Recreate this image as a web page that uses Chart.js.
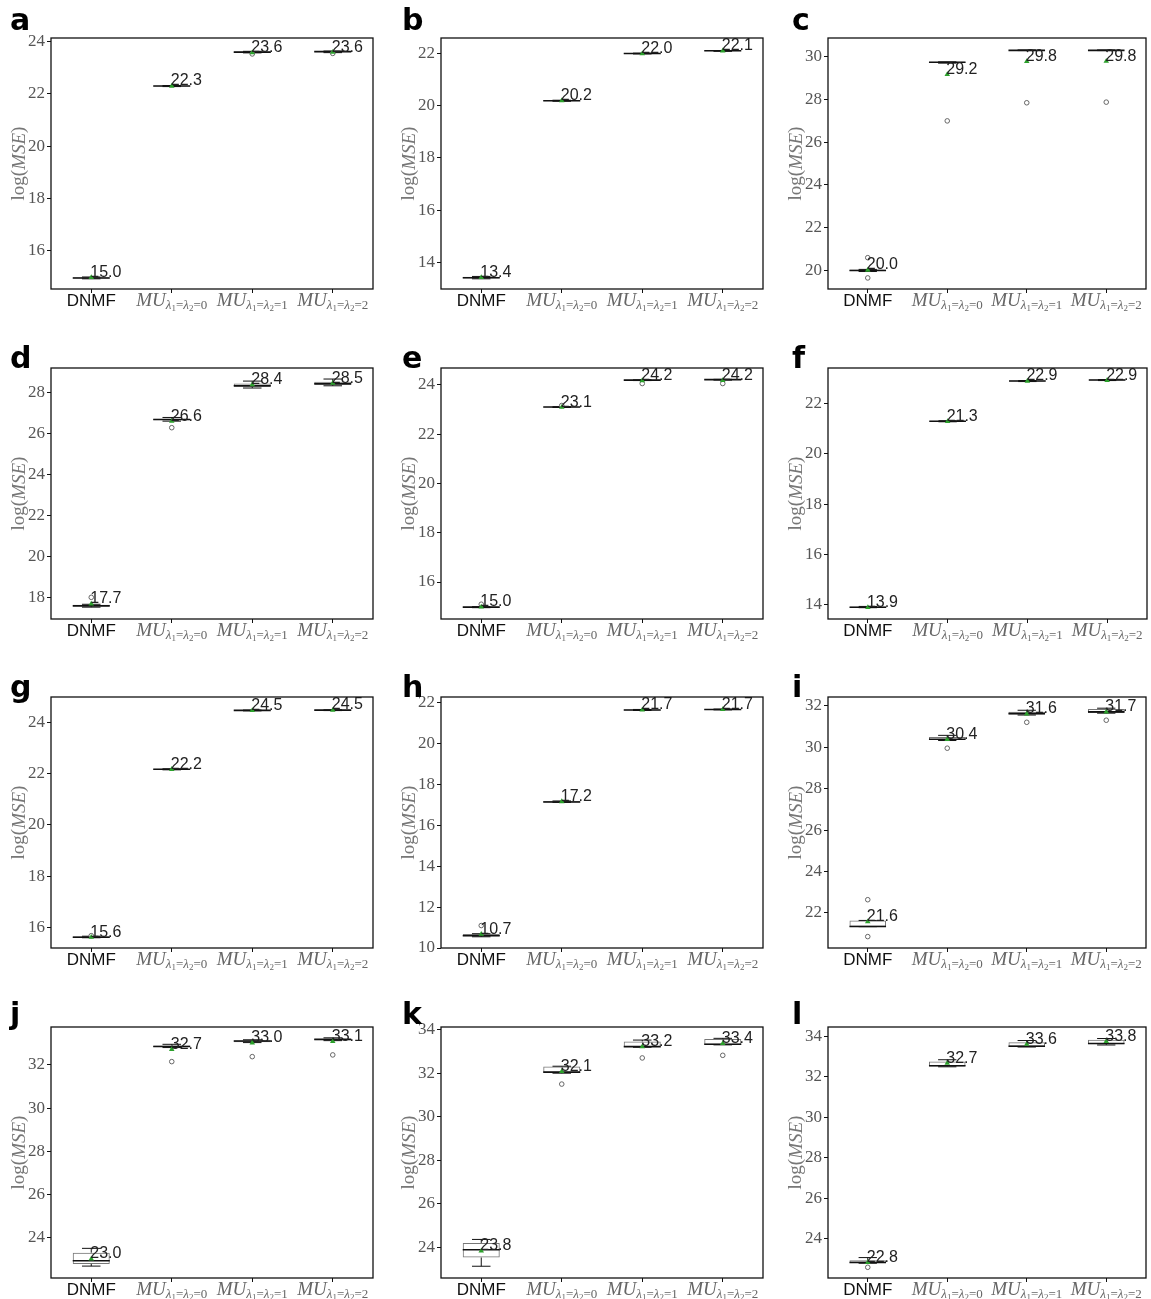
<!DOCTYPE html>
<html>
<head>
<meta charset="utf-8">
<script src="https://cdn.jsdelivr.net/npm/chart.js@4.4.0/dist/chart.umd.min.js"></script>
<style>
  body { margin: 0; background: #fff; width: 1151px; height: 1299px; position: relative; overflow: hidden; }
  .cell { position: absolute; height: 330px; }
  .cell canvas { display: block; }
</style>
</head>
<body>
<script>
// categories on the x axis (text after "_" is the subscript)
const categories = ['DNMF', 'MU_λ1=λ2=0', 'MU_λ1=λ2=1', 'MU_λ1=λ2=2'];
const panelLetters = ['a', 'b', 'c', 'd', 'e', 'f', 'g', 'h', 'i', 'j', 'k', 'l'];

// y axis range of each panel
const yMin = [14.53, 12.98, 19.11, 16.94, 14.5, 13.43, 15.2, 10.0, 20.31, 22.15, 22.6, 22.05];
const yMax = [24.14, 22.58, 30.89, 29.22, 24.68, 23.42, 24.99, 22.29, 32.42, 33.75, 34.12, 34.47];
const yStep = 2;

// box statistics, one row per panel, one value per category
const boxLow = [
    [14.93, 22.28, 23.57, 23.59],
    [13.38, 20.16, 21.97, 22.07],
    [19.95, 29.72, 30.30, 30.30],
    [17.56, 26.66, 28.29, 28.39],
    [14.97, 23.08, 24.17, 24.19],
    [13.88, 21.28, 22.88, 22.92],
    [15.60, 22.15, 24.45, 24.46],
    [10.58, 17.13, 21.63, 21.66],
    [21.34, 30.34, 31.57, 31.65],
    [22.80, 32.82, 33.05, 33.14],
    [23.54, 32.02, 33.20, 33.31],
    [22.80, 32.51, 33.50, 33.62]
];
const boxMedian = [
    [14.95, 22.30, 23.60, 23.62],
    [13.41, 20.18, 21.99, 22.09],
    [19.98, 29.75, 30.31, 30.31],
    [17.58, 26.70, 28.35, 28.45],
    [14.98, 23.10, 24.19, 24.21],
    [13.90, 21.30, 22.90, 22.94],
    [15.62, 22.17, 24.47, 24.48],
    [10.60, 17.15, 21.65, 21.68],
    [21.35, 30.38, 31.62, 31.70],
    [22.95, 32.85, 33.10, 33.18],
    [23.90, 32.05, 33.22, 33.33],
    [22.82, 32.55, 33.52, 33.65]
];
const boxHigh = [
    [14.98, 22.31, 23.62, 23.63],
    [13.45, 20.20, 22.00, 22.10],
    [20.02, 29.77, 30.33, 30.33],
    [17.64, 26.74, 28.46, 28.55],
    [15.00, 23.11, 24.20, 24.22],
    [13.93, 21.32, 22.92, 22.96],
    [15.66, 22.19, 24.48, 24.49],
    [10.68, 17.20, 21.68, 21.70],
    [21.64, 30.49, 31.71, 31.84],
    [23.32, 32.90, 33.13, 33.20],
    [24.21, 32.31, 33.46, 33.57],
    [22.93, 32.76, 33.72, 33.84]
];
const whiskerLow = [
    [14.92, 22.28, 23.57, 23.58],
    [13.37, 20.16, 21.97, 22.07],
    [19.93, 29.71, 30.30, 30.30],
    [17.52, 26.62, 28.24, 28.35],
    [14.96, 23.08, 24.17, 24.19],
    [13.88, 21.28, 22.88, 22.92],
    [15.60, 22.15, 24.45, 24.46],
    [10.55, 17.13, 21.63, 21.66],
    [21.34, 30.32, 31.55, 31.64],
    [22.70, 32.80, 33.03, 33.12],
    [23.14, 32.00, 33.19, 33.30],
    [22.78, 32.50, 33.48, 33.58]
];
const whiskerHigh = [
    [14.99, 22.32, 23.63, 23.64],
    [13.46, 20.20, 22.00, 22.10],
    [20.03, 29.77, 30.33, 30.33],
    [17.66, 26.80, 28.58, 28.68],
    [15.00, 23.11, 24.20, 24.22],
    [13.93, 21.32, 22.92, 22.96],
    [15.66, 22.19, 24.48, 24.49],
    [10.70, 17.20, 21.68, 21.70],
    [21.64, 30.57, 31.78, 31.88],
    [23.52, 32.95, 33.16, 33.25],
    [24.37, 32.32, 33.52, 33.60],
    [23.06, 32.85, 33.80, 33.90]
];
const means = [
    [14.97, 22.30, 23.58, 23.60],
    [13.42, 20.18, 21.98, 22.09],
    [20.00, 29.18, 29.79, 29.80],
    [17.68, 26.62, 28.40, 28.48],
    [14.99, 23.09, 24.17, 24.18],
    [13.89, 21.29, 22.90, 22.93],
    [15.62, 22.17, 24.47, 24.48],
    [10.68, 17.17, 21.66, 21.68],
    [21.58, 30.38, 31.60, 31.70],
    [23.03, 32.72, 33.02, 33.08],
    [23.84, 32.08, 33.22, 33.37],
    [22.82, 32.68, 33.62, 33.76]
];
// outliers as [category index, value]
const outliers = [
    [[2, 23.53], [3, 23.55]],
    [],
    [[0, 20.58], [0, 19.63], [1, 27.0], [2, 27.85], [3, 27.88]],
    [[0, 18.0], [1, 26.3]],
    [[0, 15.1], [1, 23.16], [2, 24.05], [3, 24.05]],
    [],
    [[0, 15.68]],
    [[0, 11.1]],
    [[0, 22.64], [0, 20.86], [1, 29.95], [2, 31.2], [3, 31.3]],
    [[1, 32.15], [2, 32.38], [3, 32.46]],
    [[1, 31.5], [2, 32.7], [3, 32.82]],
    [[0, 22.58]]
];

// grid of panels
const cellLeft = [0, 390, 777];
const cellWidth = [390, 390, 374];
const rowTop = [0, 330, 659, 989];
const letterX = [10, 12, 15];
const letterBase = [30, 38, 38, 35];

function line(ctx, x1, y1, x2, y2) {
    ctx.beginPath();
    ctx.moveTo(x1, y1);
    ctx.lineTo(x2, y2);
    ctx.stroke();
}

// draws the category label, with the part after "_" as a subscript
function drawCategoryLabel(ctx, label, cx, base) {
    if (label.indexOf('_') < 0) {
        ctx.font = '17px "Liberation Sans"';
        ctx.fillStyle = '#111';
        ctx.textAlign = 'center';
        ctx.fillText(label, cx, base);
        return;
    }
    const [main, sub] = label.split('_');
    const parts = [{ t: main, f: 'italic 19px "Liberation Serif"', dy: 0 }];
    let prev = '';
    for (const ch of sub) {
        if (/[0-9]/.test(ch) && prev === 'λ') {
            parts.push({ t: ch, f: '9px "Liberation Serif"', dy: 5 });
        } else if (ch === 'λ') {
            parts.push({ t: ch, f: 'italic 13px "Liberation Serif"', dy: 3 });
        } else {
            parts.push({ t: ch, f: '13px "Liberation Serif"', dy: 3 });
        }
        prev = ch;
    }
    let total = 0;
    parts.forEach(p => { ctx.font = p.f; p.w = ctx.measureText(p.t).width; total += p.w; });
    let x = cx - total / 2;
    ctx.fillStyle = '#666';
    ctx.textAlign = 'left';
    parts.forEach(p => {
        ctx.font = p.f;
        ctx.fillText(p.t, x, base + p.dy);
        x += p.w;
    });
}

function makeBoxPlugin(k, row, col) {
    return {
        id: 'boxParts' + k,
        afterDatasetDraw(chart, args) {
            if (args.index !== 0) return;
            const ctx = chart.ctx;
            const y = chart.scales.y;
            const meta = chart.getDatasetMeta(0);
            ctx.save();
            ctx.strokeStyle = '#111';
            ctx.lineWidth = 1;
            meta.data.forEach((bar, i) => {
                const cx = bar.x;
                const hw = bar.width / 2;
                const pLo = y.getPixelForValue(whiskerLow[k][i]);
                const pHi = y.getPixelForValue(whiskerHigh[k][i]);
                const pQ1 = y.getPixelForValue(boxLow[k][i]);
                const pQ3 = y.getPixelForValue(boxHigh[k][i]);
                const pMed = y.getPixelForValue(boxMedian[k][i]);
                line(ctx, cx, pLo, cx, pQ1);
                line(ctx, cx, pQ3, cx, pHi);
                line(ctx, cx - hw / 2, pLo, cx + hw / 2, pLo);
                line(ctx, cx - hw / 2, pHi, cx + hw / 2, pHi);
                ctx.lineWidth = 1.6;
                line(ctx, cx - hw, pMed, cx + hw, pMed);
                ctx.lineWidth = 1;
            });
            ctx.restore();
        },
        afterDatasetsDraw(chart) {
            const ctx = chart.ctx;
            const y = chart.scales.y;
            const meta = chart.getDatasetMeta(0);
            ctx.save();
            ctx.font = '16px "Liberation Sans"';
            ctx.fillStyle = '#222';
            ctx.textAlign = 'left';
            ctx.textBaseline = 'middle';
            meta.data.forEach((bar, i) => {
                ctx.fillText(means[k][i].toFixed(1), bar.x - 1, y.getPixelForValue(means[k][i]) - 5);
            });
            ctx.restore();
        },
        afterDraw(chart) {
            const ctx = chart.ctx;
            const a = chart.chartArea;
            const x = chart.scales.x;
            ctx.save();
            // frame
            ctx.strokeStyle = '#111';
            ctx.lineWidth = 1.3;
            ctx.strokeRect(a.left, a.top, a.right - a.left, a.bottom - a.top);
            // x labels
            ctx.textBaseline = 'alphabetic';
            categories.forEach((c, i) => {
                drawCategoryLabel(ctx, c, x.getPixelForTick(i), a.bottom + 17);
            });
            // y title
            ctx.translate(19.5, (a.top + a.bottom) / 2);
            ctx.rotate(-Math.PI / 2);
            const tParts = [
                { t: 'log(', f: '19px "Liberation Serif"' },
                { t: 'MSE', f: 'italic 19px "Liberation Serif"' },
                { t: ')', f: '19px "Liberation Serif"' }
            ];
            let tw = 0;
            tParts.forEach(p => { ctx.font = p.f; p.w = ctx.measureText(p.t).width; tw += p.w; });
            let tx = -tw / 2;
            ctx.fillStyle = '#777';
            ctx.textBaseline = 'middle';
            ctx.textAlign = 'left';
            tParts.forEach(p => { ctx.font = p.f; ctx.fillText(p.t, tx, 0); tx += p.w; });
            ctx.restore();
            // panel letter
            ctx.save();
            ctx.font = 'bold 30px "DejaVu Sans"';
            ctx.fillStyle = '#000';
            ctx.textAlign = 'left';
            ctx.textBaseline = 'alphabetic';
            ctx.fillText(panelLetters[k], letterX[col], letterBase[row]);
            ctx.restore();
        }
    };
}

panelLetters.forEach((letter, k) => {
    const row = Math.floor(k / 3);
    const col = k % 3;
    const cell = document.createElement('div');
    cell.className = 'cell';
    cell.style.left = cellLeft[col] + 'px';
    cell.style.top = rowTop[row] + 'px';
    cell.style.width = cellWidth[col] + 'px';
    const canvas = document.createElement('canvas');
    cell.appendChild(canvas);
    document.body.appendChild(cell);

    const rightPad = col === 2 ? 2 : 17;

    new Chart(canvas.getContext('2d'), {
        type: 'bar',
        data: {
            labels: categories,
            datasets: [
                {
                    type: 'bar',
                    data: boxLow[k].map((v, i) => [v, boxHigh[k][i]]),
                    backgroundColor: 'rgba(255,255,255,0)',
                    borderColor: '#777',
                    borderWidth: 1,
                    borderSkipped: false,
                    barPercentage: 0.46,
                    categoryPercentage: 1,
                    order: 3
                },
                {
                    type: 'line',
                    data: outliers[k].map(([i, v]) => ({ x: categories[i], y: v })),
                    showLine: false,
                    pointStyle: 'circle',
                    pointRadius: 2.3,
                    pointBorderWidth: 1,
                    pointBorderColor: '#666',
                    pointBackgroundColor: '#fff',
                    order: 2
                },
                {
                    type: 'line',
                    data: means[k],
                    showLine: false,
                    pointStyle: 'triangle',
                    pointRadius: 3.2,
                    pointBorderWidth: 0,
                    pointBackgroundColor: '#2ca02c',
                    pointBorderColor: '#2ca02c',
                    order: 1
                }
            ]
        },
        options: {
            responsive: true,
            maintainAspectRatio: false,
            animation: false,
            devicePixelRatio: 1,
            layout: { padding: { left: 0, top: 38, right: rightPad, bottom: 0 } },
            plugins: {
                legend: { display: false },
                tooltip: { enabled: false }
            },
            scales: {
                x: {
                    type: 'category',
                    offset: true,
                    grid: { offset: false, drawOnChartArea: false, drawTicks: true, tickLength: 4, color: '#111' },
                    border: { display: false },
                    ticks: { display: false },
                    afterFit: s => { s.height = 41; }
                },
                y: {
                    min: yMin[k],
                    max: yMax[k],
                    grid: { drawOnChartArea: false, drawTicks: true, tickLength: 4, color: '#111' },
                    border: { display: false },
                    ticks: {
                        stepSize: yStep,
                        includeBounds: false,
                        color: '#555',
                        padding: 2,
                        font: { family: '"Liberation Serif"', size: 17 }
                    },
                    afterFit: s => { s.width = 51; }
                }
            }
        },
        plugins: [makeBoxPlugin(k, row, col)]
    });
});
</script>
</body>
</html>
